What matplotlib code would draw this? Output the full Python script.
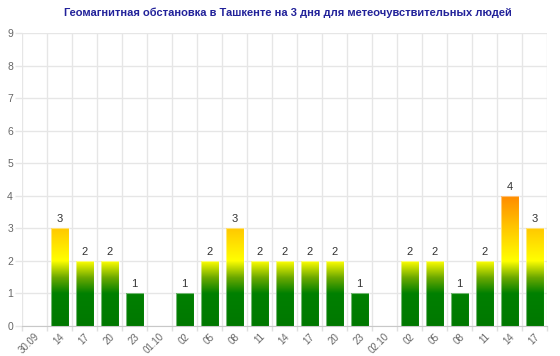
import numpy as np
import matplotlib
matplotlib.use("Agg")
import matplotlib.pyplot as plt
import matplotlib.transforms as mtransforms
from matplotlib.colors import LinearSegmentedColormap, Normalize
from matplotlib.patches import Rectangle

plt.rcParams['font.family'] = ['Liberation Sans', 'DejaVu Sans']

labels = ["30.09", "14", "17", "20", "23", "01.10", "02", "05", "08", "11",
          "14", "17", "20", "23", "02.10", "02", "05", "08", "11", "14", "17"]
kp = [None, 3, 2, 2, 1, None, 1, 2, 3, 2, 2, 2, 2, 1, None, 2, 2, 1, 2, 4, 3]
title = "Геомагнитная обстановка в Ташкенте на 3 дня для метеочувствительных людей"

# gradient stops by Kp value (0..4)
cmap = LinearSegmentedColormap.from_list(
    "kp", [(0.0, "#007800"), (0.25, "#008000"), (0.37, "#6aa800"),
           (0.5, "#ffff00"), (0.75, "#ffc800"), (1.0, "#ff8c00")])
norm = Normalize(0, 4)

fig = plt.figure(figsize=(5.6, 3.56), dpi=100)
ax = fig.add_axes([22 / 560, 30.3 / 356, 525 / 560, 292.4 / 356])

n = len(labels)
w = 0.72
for i, v in enumerate(kp):
    if not v:
        continue
    grad = np.linspace(0, v, 256).reshape(-1, 1)
    ax.imshow(grad, cmap=cmap, norm=norm, origin="lower", aspect="auto",
              extent=[i - w / 2, i + w / 2, 0, v], zorder=3, interpolation="bilinear")
    ax.add_patch(Rectangle((i - w / 2, 0), w, v, facecolor="none",
                           edgecolor=(1, 1, 1, 0.45), linewidth=0.8, zorder=4))
    ax.annotate(str(v), (i, v), xytext=(0, 3), textcoords="offset points",
                ha="center", va="bottom", fontsize=8, color="#333333", zorder=5)

ax.set_xlim(-0.5, n - 0.5)
ax.set_ylim(0, 9)
ax.set_yticks(range(10))
ax.set_xticks(range(n))
ax.set_xticklabels(labels, rotation=45, ha="right", va="top",
                   rotation_mode="anchor", fontsize=7, color="#666666")
shift = mtransforms.ScaledTranslation(-2 / 100, 0, fig.dpi_scale_trans)
for t in ax.get_xticklabels():
    t.set_transform(t.get_transform() + shift)
ax.set_xticks(np.arange(-0.5, n, 1), minor=True)
ax.tick_params(axis="x", which="major", length=0, pad=4)
ax.tick_params(axis="x", which="minor", length=3.5, color="#e0e0e0", width=1)
ax.tick_params(axis="y", length=5, color="#e6e6e6", width=1, labelsize=7.5,
               labelcolor="#666666", pad=1.5)
ax.grid(True, which="minor", axis="x", color="#e6e6e6", linewidth=1, zorder=0)
ax.grid(True, which="major", axis="y", color="#e6e6e6", linewidth=1, zorder=0)
ax.set_axisbelow(True)
for s in ["top", "right", "left"]:
    ax.spines[s].set_visible(False)
ax.spines["bottom"].set_color("#c8c8c8")

fig.text(288 / 560, 1 - 13 / 356, title, ha="center", va="center", fontsize=8,
         fontweight="bold", color="#22229a")

fig.savefig("out.png", dpi=100)
